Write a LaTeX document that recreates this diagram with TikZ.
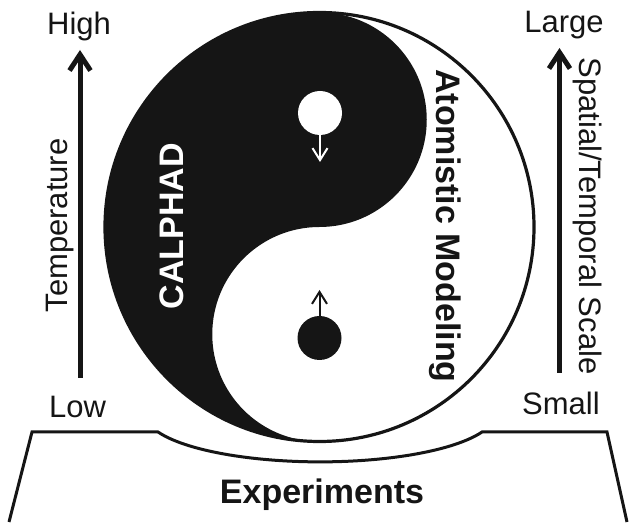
\documentclass[tikz,border=0pt]{standalone}
\usepackage{fontspec}
\setmainfont{Liberation Sans}
\usetikzlibrary{arrows.meta}
\definecolor{ink}{HTML}{151515}

\begin{document}
\begin{tikzpicture}[x=1pt, y=1pt,
    lbl/.style={font=\fontsize{31}{36}\selectfont, text=ink, inner sep=0pt},
    bold/.style={font=\fontsize{34}{40}\selectfont\bfseries, inner sep=0pt},
    bigarrow/.style={-{Straight Barb[length=16pt, width=21pt]}, line width=5pt, ink},
    smallarrow/.style={-{Straight Barb[length=12pt, width=15pt]}, line width=2pt},
    dot/.style={circle, minimum size=44pt, inner sep=0pt}]
    \useasboundingbox (0,0) rectangle (629,522);
    \fill[ink] (319.5,509.5) arc[start angle=90, end angle=270, radius=214.5]
        arc[start angle=270, end angle=90, radius=107.25]
        arc[start angle=270, end angle=450, radius=107.25] -- cycle;
    \draw[ink, line width=3.2pt] (319.5,295) circle[radius=214.5];
    \node[dot, fill=white] (wdot) at (320,409) {};
    \node[dot, fill=ink] (bdot) at (319.5,184) {};
    \coordinate (wtip) at (320,360);
    \coordinate (btip) at (319.5,232);
    \draw[smallarrow, white] (wdot.south) -- (wtip);
    \draw[smallarrow, ink] (bdot.north) -- (btip);
    \node[bold, text=white, rotate=90, anchor=base] (calphad) at (183,296) {CALPHAD};
    \node[bold, text=ink, rotate=-90, anchor=base] (atomistic) at (436,296) {Atomistic Modeling};
    \draw[ink, line width=3pt] (9,0) -- (32,90) -- (158,90)
        arc[start angle=202.2, end angle=337.8, x radius=175, y radius=48]
        -- (607,90) -- (627,0);
    \node[bold, text=ink, anchor=base] (expt) at (322,19) {Experiments};
    \node[lbl, anchor=base] (high) at (79,487) {High};
    \node[lbl, anchor=base] (low) at (77.5,104) {Low};
    \node[lbl, anchor=base] (large) at (564,489) {Large};
    \node[lbl, anchor=base] (small) at (561,107) {Small};
    \node[lbl, rotate=90, anchor=base] (temp) at (67.5,296.5) {Temperature};
    \node[lbl, rotate=-90, anchor=base] (scale) at (579,306) {Spatial/Temporal Scale};
    \coordinate (tempbot) at (80,144);
    \coordinate (temptop) at (80,472);
    \coordinate (scalebot) at (559.5,149);
    \coordinate (scaletop) at (559.5,474);
    \draw[bigarrow] (tempbot) -- (temptop);
    \draw[bigarrow] (scalebot) -- (scaletop);
\end{tikzpicture}
\end{document}
